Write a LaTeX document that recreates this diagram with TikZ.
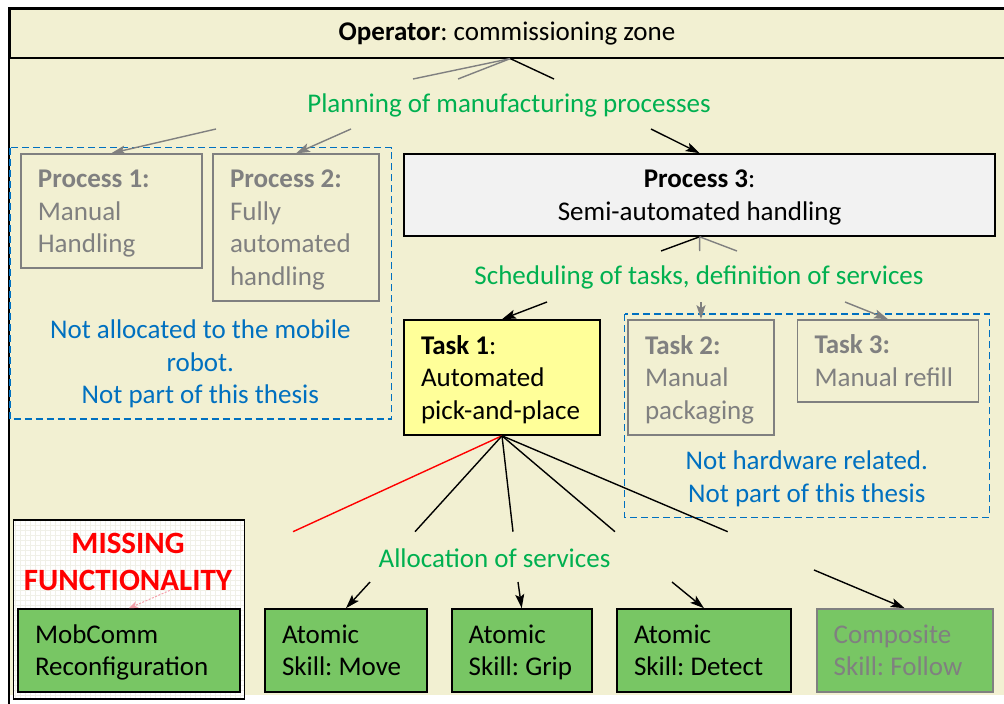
\documentclass[tikz,border=0pt]{standalone}
\usepackage{fontspec}
\setmainfont{Carlito}
\usetikzlibrary{arrows.meta}
\definecolor{bgbeige}{RGB}{242,240,210}
\definecolor{plangreen}{RGB}{0,176,80}
\definecolor{noteblue}{RGB}{0,112,192}
\definecolor{dimgray}{RGB}{128,128,128}
\definecolor{skillgreen}{RGB}{120,198,100}
\definecolor{procgray}{RGB}{242,242,242}
\definecolor{taskyellow}{RGB}{255,255,153}
\definecolor{alertred}{RGB}{255,0,0}
\definecolor{gridtint}{RGB}{240,240,232}
\definecolor{faintpink}{RGB}{245,160,170}
\frenchspacing
% fixed line height so every box places its first and last line alike
\newcommand{\boxstrut}{\rule[-7pt]{0pt}{32pt}}

\begin{document}
\begin{tikzpicture}[x=1pt,y=-1pt,
  every node/.style={font=\fontsize{27}{32.5}\selectfont, inner sep=0pt},
  solidbox/.style={draw=black, line width=1.6pt, inner xsep=17pt, inner ysep=0pt, align=flush left,
    execute at begin node=\boxstrut, execute at end node=\boxstrut},
  dimbox/.style={solidbox, draw=dimgray, text=dimgray},
  skillbox/.style={solidbox, fill=skillgreen},
  planlabel/.style={text=plangreen},
  note/.style={text=noteblue, align=center},
  scopebox/.style={draw=noteblue, line width=1.5pt, dash pattern=on 7pt off 4pt},
  link/.style={line width=1.4pt, draw=black},
  dimlink/.style={line width=1.4pt, draw=dimgray},
  redlink/.style={line width=1.4pt, draw=alertred},
  tip/.style={-{Stealth[length=14pt,width=9pt,inset=3pt]}}
]
\useasboundingbox (0,0) rectangle (1004,704);

% zone background and frame
\fill[bgbeige] (9,8) rectangle (1010,694.5);
\draw[line width=1.6pt] (9,704) -- (9,8) -- (1010,8);
\node[draw, line width=1.6pt, minimum width=1001pt, minimum height=49pt, anchor=north west]
  (hdr) at (9,8) {};
\node at (507,34) (hdrtext) {\textbf{Operator}: commissioning zone};

% box marking the missing functionality
\fill[white] (13.3,520) rectangle (244.3,699);
\draw[gridtint, line width=0.4pt, step=5pt] (13.3,520) grid (244.3,699);
\draw[line width=1.4pt] (13.3,520) rectangle (244.3,699);
\node[text=alertred, font=\fontsize{31}{37}\selectfont\bfseries, align=center]
  (missing) at (128,562) {MISSING\\FUNCTIONALITY};

% out-of-scope groups
\draw[scopebox] (10,147.7) rectangle (391.7,419);
\draw[scopebox] (624.6,314) rectangle (989.4,517.3);

% processes
\node[dimbox, minimum width=181pt, minimum height=114pt, text width=147pt]
  (p1) at (111.4,211) {\textbf{Process~1:}\\Manual\\Handling};
\node[dimbox, minimum width=166pt, minimum height=147pt, text width=132pt]
  (p2) at (296,227.7) {\textbf{Process~2:}\\Fully\\automated\\handling};
\node[solidbox, fill=procgray, align=flush center, minimum width=591pt, minimum height=82pt, text width=557pt]
  (p3) at (699.6,195) {\textbf{Process 3}:\\Semi-automated handling};

% tasks
\node[solidbox, fill=taskyellow, minimum width=196pt, minimum height=115pt, text width=162pt]
  (t1) at (502,377.5) {\textbf{Task~1}:\\Automated\\pick-and-place};
\node[dimbox, minimum width=146pt, minimum height=115pt, text width=112pt]
  (t2) at (701,377.5) {\textbf{Task~2:}\\Manual\\packaging};
\node[dimbox, minimum width=181pt, minimum height=82pt, text width=147pt]
  (t3) at (888,361) {\textbf{Task~3:}\\Manual~refill};

% skills
\node[skillbox, minimum width=222pt, minimum height=83pt, text width=188pt]
  (mob) at (129,650.5) {MobComm\\Reconfiguration};
\node[skillbox, minimum width=162pt, minimum height=83pt, text width=128pt]
  (move) at (346,650.5) {Atomic\\Skill:~Move};
\node[skillbox, minimum width=140pt, minimum height=83pt, text width=106pt]
  (grip) at (521.7,650.5) {Atomic\\Skill:~Grip};
\node[skillbox, minimum width=174pt, minimum height=83pt, text width=140pt]
  (detect) at (704,650.5) {Atomic\\Skill:~Detect};
\node[skillbox, draw=dimgray, text=dimgray, minimum width=176pt, minimum height=83pt, text width=142pt]
  (follow) at (904.7,650.5) {Composite\\Skill:~Follow};

% stage labels and notes
\node[planlabel] (plan) at (509,105) {Planning of manufacturing processes};
\node[planlabel] (sched) at (699,277) {Scheduling of tasks, definition of services};
\node[planlabel] (alloc) at (494.5,558) {Allocation of services};
\node[note] (note1) at (200.3,364) {Not allocated to the mobile\\robot.\\Not part of this thesis};
\node[note] (note2) at (806.8,479) {Not hardware related.\\Not part of this thesis};

% free ends of the connectors
\coordinate (opA) at (413,79);
\coordinate (opB) at (458,79);
\coordinate (opC) at (554,79);
\coordinate (pl1) at (216,129);
\coordinate (pl2) at (351,129);
\coordinate (pl3) at (651,129);
\coordinate (s3a) at (661,251);
\coordinate (s3b) at (699.7,251);
\coordinate (s3c) at (737,251);
\coordinate (sc1) at (547,302);
\coordinate (sc2) at (701,302);
\coordinate (sc3) at (845,302);
\coordinate (fr) at (293,531.7);
\coordinate (fa) at (415,531.7);
\coordinate (fb) at (513,531.7);
\coordinate (fc) at (615,531.7);
\coordinate (fd) at (727.7,531.7);
\coordinate (al1) at (370,582);
\coordinate (al2) at (518,582);
\coordinate (al3) at (672,582);
\coordinate (al4) at (814,570);
\coordinate (mf) at (173,589);

% operator -> planning -> processes
\draw[dimlink] (hdr.south) -- (opA);
\draw[dimlink] (hdr.south) -- (opB);
\draw[link] (hdr.south) -- (opC);
\draw[dimlink, tip] (pl1) -- (p1.north);
\draw[dimlink, tip] (pl2) -- (p2.north);
\draw[link, tip] (pl3) -- (p3.north);

% process 3 -> scheduling -> tasks
\draw[link] (p3.south) -- (s3a);
\draw[dimlink] (p3.south) -- (s3b);
\draw[dimlink] (p3.south) -- (s3c);
\draw[link, tip] (sc1) -- (t1.north);
\draw[dimlink, tip] (sc2) -- (t2.north);
\draw[dimlink, tip] (sc3) -- (t3.north);

% task 1 -> allocation -> skills
\draw[redlink] (t1.south) -- (fr);
\draw[link] (t1.south) -- (fa);
\draw[link] (t1.south) -- (fb);
\draw[link] (t1.south) -- (fc);
\draw[link] (t1.south) -- (fd);
\draw[link, tip] (al1) -- (move.north);
\draw[link, tip] (al2) -- (grip.north);
\draw[link, tip] (al3) -- (detect.north);
\draw[link, tip] (al4) -- (follow.north);
\draw[faintpink, line width=1pt, dash pattern=on 2pt off 1.5pt,
  -{Stealth[length=9pt,width=7pt]}] (mf) -- (mob.north);
\end{tikzpicture}
\end{document}
